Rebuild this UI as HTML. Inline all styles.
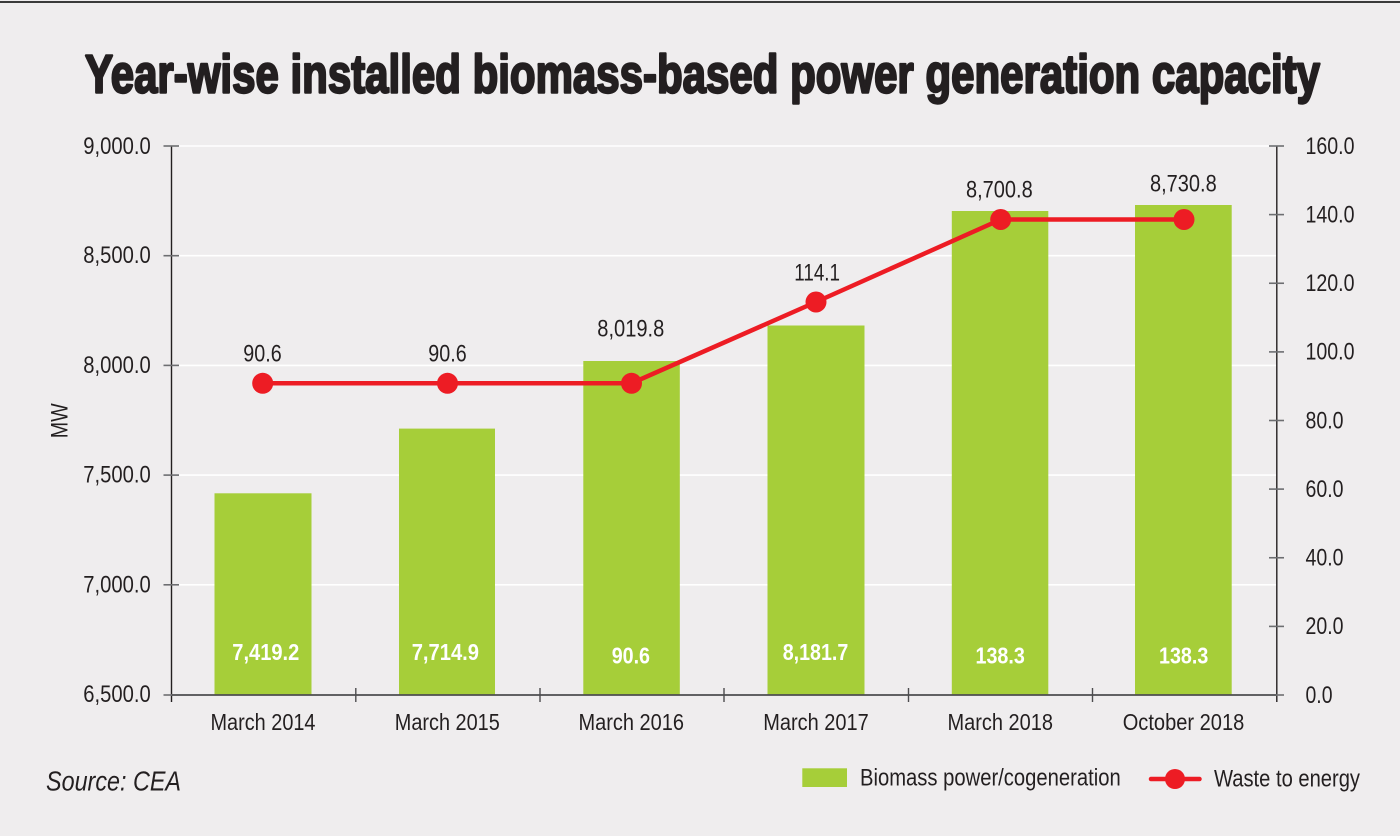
<!DOCTYPE html>
<html>
<head>
<meta charset="utf-8">
<style>
  html, body { margin: 0; padding: 0; background: #efedee; }
  svg { display: block; }
  text { font-family: "Liberation Sans", Arial, sans-serif; fill: #231f20; }
</style>
</head>
<body>
<svg width="1400" height="836" viewBox="0 0 1400 836" xmlns="http://www.w3.org/2000/svg">
  <rect x="0" y="0" width="1400" height="836" fill="#efedee"/>
  <rect x="0" y="1" width="1400" height="2" fill="#3a3a3a"/>

  <!-- Title -->
  <text x="85" y="92.3" font-size="54" font-weight="bold" textLength="1235" lengthAdjust="spacingAndGlyphs" stroke="#231f20" stroke-width="2.4" stroke-linejoin="round">Year-wise installed biomass-based power generation capacity</text>

  <!-- Gridlines -->
  <g stroke="#ffffff" stroke-width="1.6">
    <line x1="179" y1="146" x2="1277" y2="146"/>
    <line x1="179" y1="255.7" x2="1277" y2="255.7"/>
    <line x1="179" y1="365.4" x2="1277" y2="365.4"/>
    <line x1="179" y1="475.1" x2="1277" y2="475.1"/>
    <line x1="179" y1="584.8" x2="1277" y2="584.8"/>
  </g>

  <!-- Bars -->
  <g fill="#a6ce39">
    <rect x="214.5" y="493.3" width="97" height="201.7"/>
    <rect x="399" y="428.6" width="96" height="266.4"/>
    <rect x="583.3" y="361" width="96.5" height="334"/>
    <rect x="767.5" y="325.5" width="97" height="369.5"/>
    <rect x="951.8" y="211" width="96.5" height="484"/>
    <rect x="1135" y="205" width="96.7" height="490"/>
  </g>

  <!-- Axes -->
  <line x1="171.5" y1="146" x2="171.5" y2="702" stroke="#231f20" stroke-width="1.4"/>
  <line x1="1276.8" y1="146" x2="1276.8" y2="702" stroke="#231f20" stroke-width="1.4"/>
  <line x1="171" y1="695" x2="1277.5" y2="695" stroke="#4d4d4f" stroke-width="1.8"/>

  <!-- Left ticks -->
  <g stroke="#6d6e71" stroke-width="1.6">
    <line x1="163.5" y1="146" x2="179" y2="146"/>
    <line x1="163.5" y1="255.7" x2="179" y2="255.7"/>
    <line x1="163.5" y1="365.4" x2="179" y2="365.4"/>
    <line x1="163.5" y1="475.1" x2="179" y2="475.1"/>
    <line x1="163.5" y1="584.8" x2="179" y2="584.8"/>
    <line x1="163.5" y1="695" x2="172" y2="695"/>
  </g>
  <!-- Right ticks -->
  <g stroke="#6d6e71" stroke-width="1.6">
    <line x1="1269" y1="146" x2="1284" y2="146"/>
    <line x1="1269" y1="214.6" x2="1284" y2="214.6"/>
    <line x1="1269" y1="283.25" x2="1284" y2="283.25"/>
    <line x1="1269" y1="351.9" x2="1284" y2="351.9"/>
    <line x1="1269" y1="420.5" x2="1284" y2="420.5"/>
    <line x1="1269" y1="489.1" x2="1284" y2="489.1"/>
    <line x1="1269" y1="557.75" x2="1284" y2="557.75"/>
    <line x1="1269" y1="626.4" x2="1284" y2="626.4"/>
    <line x1="1276" y1="695" x2="1284" y2="695"/>
  </g>
  <!-- Category ticks -->
  <g stroke="#4d4d4f" stroke-width="1.4">
    <line x1="355.8" y1="688" x2="355.8" y2="702"/>
    <line x1="540" y1="688" x2="540" y2="702"/>
    <line x1="724" y1="688" x2="724" y2="702"/>
    <line x1="908.5" y1="688" x2="908.5" y2="702"/>
    <line x1="1092.5" y1="688" x2="1092.5" y2="702"/>
  </g>

  <!-- Left tick labels -->
  <g font-size="24">
    <text x="83.3" y="154" textLength="67.4" lengthAdjust="spacingAndGlyphs">9,000.0</text>
    <text x="83.3" y="263" textLength="67.4" lengthAdjust="spacingAndGlyphs">8,500.0</text>
    <text x="83.3" y="373" textLength="67.4" lengthAdjust="spacingAndGlyphs">8,000.0</text>
    <text x="83.3" y="482.6" textLength="67.4" lengthAdjust="spacingAndGlyphs">7,500.0</text>
    <text x="83.3" y="592.3" textLength="67.4" lengthAdjust="spacingAndGlyphs">7,000.0</text>
    <text x="83.3" y="702" textLength="67.4" lengthAdjust="spacingAndGlyphs">6,500.0</text>
  </g>

  <!-- MW -->
  <text x="0" y="0" font-size="24" textLength="35" lengthAdjust="spacingAndGlyphs" transform="translate(67.5,438.3) rotate(-90)">MW</text>

  <!-- Right tick labels -->
  <g font-size="24">
    <text x="1305.5" y="153.8" textLength="49" lengthAdjust="spacingAndGlyphs">160.0</text>
    <text x="1305.5" y="222.4" textLength="49" lengthAdjust="spacingAndGlyphs">140.0</text>
    <text x="1305.5" y="291" textLength="49" lengthAdjust="spacingAndGlyphs">120.0</text>
    <text x="1305.5" y="359.7" textLength="49" lengthAdjust="spacingAndGlyphs">100.0</text>
    <text x="1305.5" y="428.3" textLength="38" lengthAdjust="spacingAndGlyphs">80.0</text>
    <text x="1305.5" y="496.9" textLength="38" lengthAdjust="spacingAndGlyphs">60.0</text>
    <text x="1305.5" y="565.5" textLength="38" lengthAdjust="spacingAndGlyphs">40.0</text>
    <text x="1305.5" y="634.2" textLength="38" lengthAdjust="spacingAndGlyphs">20.0</text>
    <text x="1305.5" y="702.8" textLength="27" lengthAdjust="spacingAndGlyphs">0.0</text>
  </g>

  <!-- X labels -->
  <g font-size="23.5">
    <text x="210.5" y="730" textLength="105" lengthAdjust="spacingAndGlyphs">March 2014</text>
    <text x="394.8" y="730" textLength="105" lengthAdjust="spacingAndGlyphs">March 2015</text>
    <text x="578.5" y="730" textLength="105.5" lengthAdjust="spacingAndGlyphs">March 2016</text>
    <text x="763.2" y="730" textLength="105.5" lengthAdjust="spacingAndGlyphs">March 2017</text>
    <text x="947.5" y="730" textLength="105.5" lengthAdjust="spacingAndGlyphs">March 2018</text>
    <text x="1122.7" y="730" textLength="121.6" lengthAdjust="spacingAndGlyphs">October 2018</text>
  </g>

  <!-- Bar inner labels -->
  <g font-size="23" font-weight="bold">
    <text x="232.3" y="660" textLength="67" lengthAdjust="spacingAndGlyphs" style="fill:#ffffff">7,419.2</text>
    <text x="411.7" y="660" textLength="67.3" lengthAdjust="spacingAndGlyphs" style="fill:#ffffff">7,714.9</text>
    <text x="611.7" y="663.3" textLength="38.3" lengthAdjust="spacingAndGlyphs" style="fill:#ffffff">90.6</text>
    <text x="782.7" y="660" textLength="65.6" lengthAdjust="spacingAndGlyphs" style="fill:#ffffff">8,181.7</text>
    <text x="975.5" y="663.3" textLength="49.3" lengthAdjust="spacingAndGlyphs" style="fill:#ffffff">138.3</text>
    <text x="1159" y="663.3" textLength="49.3" lengthAdjust="spacingAndGlyphs" style="fill:#ffffff">138.3</text>
  </g>

  <!-- Line series -->
  <polyline points="262.7,383.3 447.5,383.3 631.5,383.3 816,302 1000.7,219.5 1184,219.5" fill="none" stroke="#ed1c24" stroke-width="4.5" stroke-linejoin="round"/>
  <g fill="#ed1c24">
    <circle cx="262.7" cy="383.3" r="10.5"/>
    <circle cx="447.5" cy="383.3" r="10.5"/>
    <circle cx="631.5" cy="383.3" r="10.5"/>
    <circle cx="816" cy="302" r="10.5"/>
    <circle cx="1000.7" cy="219.5" r="10.5"/>
    <circle cx="1184" cy="219.5" r="10.5"/>
  </g>

  <!-- Above labels -->
  <g font-size="24">
    <text x="243.3" y="361.7" textLength="38.4" lengthAdjust="spacingAndGlyphs">90.6</text>
    <text x="428.3" y="361.7" textLength="38.4" lengthAdjust="spacingAndGlyphs">90.6</text>
    <text x="597.3" y="336.7" textLength="67" lengthAdjust="spacingAndGlyphs">8,019.8</text>
    <text x="794.3" y="280.7" textLength="45.7" lengthAdjust="spacingAndGlyphs">114.1</text>
    <text x="966" y="197.3" textLength="66.7" lengthAdjust="spacingAndGlyphs">8,700.8</text>
    <text x="1150" y="191.7" textLength="66.7" lengthAdjust="spacingAndGlyphs">8,730.8</text>
  </g>

  <!-- Source -->
  <text x="46" y="790.7" font-size="28" font-style="italic" textLength="135" lengthAdjust="spacingAndGlyphs">Source: CEA</text>

  <!-- Legend -->
  <rect x="802.3" y="768.3" width="44.7" height="18.7" fill="#a6ce39"/>
  <text x="860" y="785.7" font-size="24" textLength="260.7" lengthAdjust="spacingAndGlyphs">Biomass power/cogeneration</text>
  <line x1="1151" y1="779" x2="1199.5" y2="779" stroke="#ed1c24" stroke-width="4.5" stroke-linecap="round"/>
  <circle cx="1175" cy="779" r="10" fill="#ed1c24"/>
  <text x="1214" y="786.7" font-size="24" textLength="146" lengthAdjust="spacingAndGlyphs">Waste to energy</text>
</svg>
</body>
</html>
